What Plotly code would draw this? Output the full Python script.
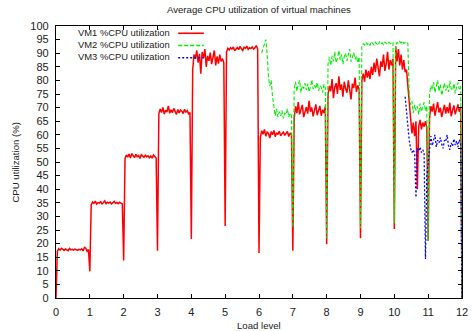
import plotly.graph_objects as go

# ---------------- data ----------------
SAMPLES_PER_LEVEL = 25
levels = list(range(12))
x_ticks = list(range(0, 13))
y_ticks = list(range(0, 101, 5))

# VM1: one list per load level, first value is the sample taken at the level change
vm1_levels = [
    [0.0, 17.2, 18.1, 17.6, 18.3, 17.9, 17.5, 18.0, 17.8, 17.4, 18.2, 17.7, 17.9, 17.6, 18.0, 17.8, 17.5, 17.9, 17.7, 18.1, 17.3, 18.6, 18.3, 17.2, 17.8],
    [9.8, 34.2, 35.3, 34.8, 35.6, 34.5, 35.1, 34.9, 35.4, 34.6, 35.0, 35.7, 34.7, 35.2, 34.9, 35.3, 34.6, 35.0, 35.5, 34.8, 35.1, 34.7, 35.2, 34.9, 34.6],
    [13.8, 51.2, 52.6, 51.8, 52.9, 51.5, 53.1, 52.2, 51.6, 52.8, 51.9, 52.4, 51.3, 52.7, 52.0, 51.7, 52.5, 51.9, 52.3, 51.6, 52.2, 51.4, 52.6, 51.8, 51.5],
    [17.4, 67.8, 69.5, 68.2, 70.1, 67.6, 69.0, 68.4, 70.6, 67.9, 69.2, 68.1, 69.7, 68.6, 67.5, 69.3, 68.0, 69.1, 68.7, 67.8, 69.4, 68.3, 68.9, 67.7, 68.2],
    [21.7, 84.0, 89.5, 88.0, 91.0, 86.5, 89.8, 82.5, 90.5, 88.2, 91.5, 85.0, 89.0, 87.2, 90.2, 86.0, 88.5, 91.0, 85.5, 88.8, 86.2, 89.5, 87.0, 88.0, 86.5],
    [26.5, 90.5, 91.8, 91.2, 92.0, 91.5, 92.3, 90.9, 91.7, 92.1, 91.3, 92.5, 91.6, 91.0, 92.2, 91.8, 92.6, 91.4, 92.0, 91.7, 92.3, 91.5, 92.0, 92.8, 91.6],
    [16.5, 59.0, 61.5, 60.2, 62.0, 59.5, 61.0, 60.5, 58.8, 61.2, 60.0, 61.6, 59.3, 60.8, 60.1, 61.3, 59.6, 60.4, 61.0, 59.8, 60.6, 61.2, 59.4, 60.7, 60.0],
    [17.4, 66.0, 70.5, 68.0, 72.0, 67.5, 69.8, 71.0, 66.5, 69.0, 70.2, 67.8, 72.5, 68.5, 70.0, 66.8, 69.5, 71.2, 67.2, 68.8, 70.6, 67.0, 69.2, 68.0, 70.4],
    [19.8, 74.5, 78.0, 76.0, 80.5, 73.5, 77.5, 79.0, 75.0, 81.5, 76.5, 78.5, 74.0, 79.5, 77.0, 75.5, 80.0, 76.8, 73.0, 78.8, 77.2, 81.0, 75.8, 78.2, 76.5],
    [22.0, 80.0, 82.5, 79.5, 84.0, 81.0, 83.5, 80.5, 85.0, 82.0, 86.5, 83.0, 88.0, 84.5, 81.5, 87.0, 85.0, 89.5, 83.5, 86.0, 90.5, 84.0, 87.5, 85.5, 88.0],
    [25.4, 92.5, 87.0, 91.5, 85.5, 89.5, 84.0, 87.5, 83.0, 84.0, 78.0, 71.0, 66.0, 60.5, 64.5, 59.5, 65.0, 40.0, 63.0, 65.5, 62.0, 64.5, 63.0, 65.0, 62.5],
    [21.0, 66.0, 70.5, 68.5, 71.5, 67.0, 69.8, 72.0, 68.2, 70.0, 66.5, 69.5, 71.0, 67.8, 70.2, 68.0, 71.8, 66.8, 69.0, 70.8, 67.5, 69.6, 71.2, 68.4, 70.0],
]

# VM2 starts during load level 6 (first value at sample index 2 of level 6)
vm2_start_level = 6
vm2_start_index = 2
vm2_levels = [
    [90.0, 91.5, 93.0, 95.0, 90.0, 81.0, 78.0, 80.0, 74.0, 70.0, 67.0, 69.5, 66.5, 68.5, 67.0, 69.0, 66.0, 68.0, 67.5, 69.5, 66.5, 68.0, 67.0],
    [26.0, 77.0, 79.5, 76.0, 78.5, 80.0, 75.5, 78.0, 77.0, 79.0, 76.5, 78.8, 75.8, 77.5, 80.2, 76.8, 78.2, 77.0, 79.2, 76.2, 78.0, 77.5, 75.5, 78.6, 77.2],
    [22.0, 86.0, 88.5, 85.5, 89.0, 87.0, 90.5, 86.5, 88.0, 91.0, 87.5, 89.5, 86.0, 88.8, 90.0, 87.2, 89.2, 91.5, 86.8, 88.5, 90.2, 87.8, 89.0, 86.5, 88.6],
    [25.7, 92.5, 93.5, 93.0, 94.0, 93.2, 93.8, 92.8, 94.2, 93.5, 93.0, 94.0, 93.6, 92.9, 94.3, 93.4, 93.8, 93.1, 94.1, 93.6, 93.2, 94.0, 93.7, 93.3, 93.9],
    [27.5, 93.0, 94.0, 93.5, 94.3, 93.8, 94.5, 93.6, 94.0, 94.2, 93.5, 75.0, 71.0, 72.5, 68.0, 71.0, 69.0, 70.5, 67.5, 71.5, 68.5, 70.0, 72.0, 68.8, 70.5],
    [21.0, 75.0, 78.0, 76.5, 79.5, 75.5, 77.8, 80.0, 76.0, 78.5, 74.5, 77.2, 79.0, 76.2, 78.2, 75.8, 79.8, 77.0, 76.4, 78.8, 75.2, 77.6, 79.2, 76.8, 78.0],
]

# VM3 starts during load level 10 (first value at sample index 8 of level 10)
vm3_start_level = 10
vm3_start_index = 8
vm3_levels = [
    [74.0, 68.0, 63.0, 58.0, 55.0, 53.5, 54.5, 53.0, 37.0, 55.0, 54.0, 55.5, 53.5, 54.5, 53.5, 14.3, 45.0],
    [50.0, 57.0, 59.5, 56.0, 58.5, 60.0, 55.5, 58.0, 57.0, 59.0, 56.5, 55.0, 58.0, 57.5, 60.0, 56.0, 54.5, 57.0, 55.8, 58.5, 56.2, 57.8, 55.5, 58.2, 56.8],
]

end_load = 12
end_value = 0.0


def build_series(level_lists, start_level, start_index):
    xs, ys = [], []
    for k, vals in enumerate(level_lists):
        lvl = start_level + k
        offset = start_index if k == 0 else 0
        for i, v in enumerate(vals):
            xs.append(lvl + (i + offset) / SAMPLES_PER_LEVEL)
            ys.append(v)
    xs.append(end_load)
    ys.append(end_value)
    return xs, ys


x1, y1 = build_series(vm1_levels, 0, 0)
x2, y2 = build_series(vm2_levels, vm2_start_level, vm2_start_index)
x3, y3 = build_series(vm3_levels, vm3_start_level, vm3_start_index)

names = ["VM1 %CPU utilization", "VM2 %CPU utilization", "VM3 %CPU utilization"]
colors = ["#ff0000", "#00f000", "#0000ff"]
dashes = ["solid", "4px,2px", "2px,2px"]
widths = [1.5, 1.1, 1.3]
legend_widths = [1.6, 1.4, 1.4]

FONT = "Liberation Sans, Arial, sans-serif"
TXT = "#222"

fig = go.Figure()
for xs, ys, n, c, d, w in zip([x1, x2, x3], [y1, y2, y3], names, colors, dashes, widths):
    fig.add_trace(go.Scatter(x=xs, y=ys, mode="lines", name=n,
                             line=dict(color=c, dash=d, width=w), showlegend=False))

L, R, T, B = 56, 468, 26, 298
W, H = 472, 331
pw, ph = R - L, B - T

def px(x):
    return (x - L) / pw

def py(y):
    return (B - y) / ph

annotations = [
    dict(text="Average CPU utilization of virtual machines", x=px(262), y=py(10),
         xref="paper", yref="paper", showarrow=False, xanchor="center", yanchor="middle",
         font=dict(size=9.6, family=FONT, color=TXT)),
    dict(text="Load level", x=px(262), y=py(325), xref="paper", yref="paper",
         showarrow=False, xanchor="center", yanchor="middle",
         font=dict(size=9.6, family=FONT, color=TXT)),
    dict(text="CPU utilization (%)", x=px(14), y=py(162), xref="paper", yref="paper",
         showarrow=False, xanchor="center", yanchor="middle", textangle=-90,
         font=dict(size=9.6, family=FONT, color=TXT)),
]
# legend drawn gnuplot-style: right-aligned text with the line sample to its right
LEG_FS = 9.4
LEG_MID = 45.0
LEG_STEP = 1.3 * LEG_FS
annotations.append(dict(text="<br>".join(names), x=px(174), y=py(LEG_MID), xref="paper", yref="paper",
                        showarrow=False, xanchor="right", yanchor="middle", align="right",
                        font=dict(size=LEG_FS, family=FONT, color=TXT)))
shapes = []
legend_rows = [LEG_MID - LEG_STEP + 0.5, LEG_MID + 0.5, LEG_MID + LEG_STEP + 0.5]
for c, d, w, row in zip(colors, dashes, legend_widths, legend_rows):
    shapes.append(dict(type="line", xref="paper", yref="paper",
                       x0=px(180), x1=px(206), y0=py(row), y1=py(row),
                       line=dict(color=c, dash=d, width=w)))

axis_common = dict(showgrid=False, zeroline=False, showline=True, linecolor="black",
                   linewidth=1.2, mirror="ticks", ticks="inside", ticklen=4,
                   tickcolor="black", tickwidth=1, ticklabeloverflow="allow",
                   tickfont=dict(size=11, family=FONT, color=TXT))

fig.update_layout(
    width=W, height=H,
    margin=dict(l=L, r=W - R, t=T, b=H - B, pad=0),
    plot_bgcolor="white", paper_bgcolor="white",
    xaxis=dict(range=[0, 12], tickvals=x_ticks, ticklabelstandoff=4, **axis_common),
    yaxis=dict(range=[0, 100], tickvals=y_ticks, ticklabelstandoff=4, **axis_common),
    annotations=annotations, shapes=shapes,
)

fig.write_html("out.html")
